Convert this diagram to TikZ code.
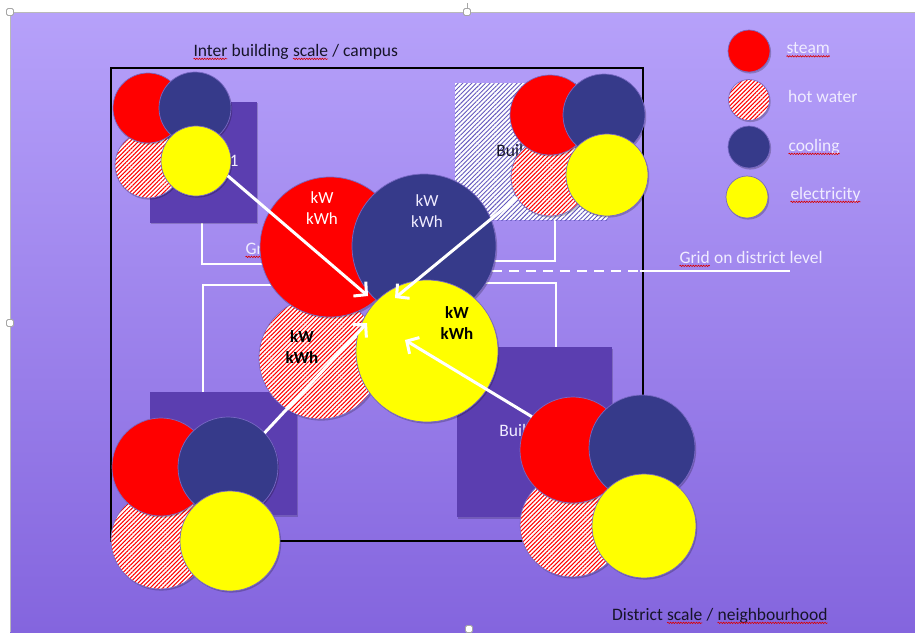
\documentclass[tikz,border=0pt]{standalone}
\usepackage{fontspec}
\setmainfont{Carlito}
\usetikzlibrary{arrows.meta,patterns.meta,shadows,decorations.pathmorphing}
\definecolor{bgtop}{RGB}{182,161,250}
\definecolor{bgbot}{RGB}{132,101,222}
\definecolor{steamred}{RGB}{255,0,0}
\definecolor{coolnavy}{RGB}{54,58,138}
\definecolor{elyellow}{RGB}{255,255,0}
\definecolor{bldgpurple}{RGB}{91,62,176}
\definecolor{hatchblue}{RGB}{100,88,190}
\definecolor{rimcol}{RGB}{120,104,196}
\definecolor{darktext}{RGB}{22,20,40}
\definecolor{lighttext}{RGB}{240,236,255}
\newcommand\spell[1]{\tikz[baseline=(sp.base)]{\node[inner sep=0pt,outer sep=0pt](sp){#1};\draw[spellline] ([yshift=-2.6pt]sp.base west) -- ([yshift=-2.6pt]sp.base east);}}
\begin{document}
\begin{tikzpicture}[x=1pt,y=-1pt,
  spellline/.style={draw=red!85!black,line width=0.6pt,decorate,decoration={snake,amplitude=0.7pt,segment length=2.6pt}},
  txt/.style={font=\fontsize{17.5}{21}\selectfont,inner sep=0pt,anchor=west},
  kw/.style={font=\fontsize{17}{21.5}\selectfont,inner sep=0pt,align=center},
  disc/.style={circle,inner sep=0pt,outer sep=0pt,minimum size=#1,draw=rimcol,line width=0.7pt,
     drop shadow={shadow xshift=1.2pt,shadow yshift=-1.6pt,opacity=0.22,fill=black}},
  steam/.style={disc=#1,fill=steamred},
  cool/.style={disc=#1,fill=coolnavy},
  elec/.style={disc=#1,fill=elyellow},
  hwater/.style={disc=#1,preaction={fill=white},pattern={Lines[angle=45,distance=3pt,line width=1.05pt]},pattern color=steamred},
  bldg/.style={rectangle,inner sep=0pt,fill=bldgpurple,font=\fontsize{17.5}{21}\selectfont,text=lighttext,
     drop shadow={shadow xshift=1.2pt,shadow yshift=-1.6pt,opacity=0.18,fill=black}},
  grid/.style={draw=white,line width=2.4pt},
  flow/.style={draw=white,line width=3pt,-{Straight Barb[length=9pt,width=19pt]}},
  handle/.style={draw=gray!70,fill=white,line width=0.8pt,rounded corners=1.5pt}
]
\useasboundingbox (0,0) rectangle (915,632);
\fill[white] (0,0) rectangle (915,632);
\shade[top color=bgtop,bottom color=bgbot] (10,12) rectangle (915,632);
\draw[gray!55,line width=1pt] (915,12) -- (10,12) -- (10,632);
\draw[gray!70,line width=0.8pt] (467,3) -- (467,9);
\node[handle,minimum size=7pt,inner sep=0pt] (h1) at (10,12) {};
\node[handle,minimum size=7pt,inner sep=0pt] (h2) at (467,12) {};
\node[handle,minimum size=7pt,inner sep=0pt] (h3) at (10,323) {};
\node[handle,minimum size=7pt,inner sep=0pt] (h4) at (469,629) {};

% campus frame
\draw[black,line width=1.2pt] (111,68) rectangle (643,541);
\node[txt,text=darktext] (title) at (193,52) {\spell{Inter} building \spell{scale} / campus};
\node[txt,text=darktext] (district) at (612,616) {District \spell{scale} / \spell{neighbourhood}};

% grid lines
\coordinate (g1a) at (202,222); \coordinate (g1b) at (202,264); \coordinate (g1c) at (280,264);
\draw[grid] (g1a) -- (g1b) -- (g1c);
\coordinate (g2a) at (555,220); \coordinate (g2b) at (555,261); \coordinate (g2c) at (470,261);
\draw[grid] (g2a) -- (g2b) -- (g2c);
\coordinate (g3a) at (492,271); \coordinate (g3b) at (640,271); \coordinate (g3c) at (790,271);
\draw[grid,dash pattern=on 10pt off 7pt] (g3a) -- (g3b);
\draw[grid] (g3b) -- (g3c);
\coordinate (g4a) at (470,283); \coordinate (g4b) at (556,283); \coordinate (g4c) at (556,347);
\draw[grid] (g4a) -- (g4b) -- (g4c);
\coordinate (g5a) at (280,285); \coordinate (g5b) at (203,285); \coordinate (g5c) at (203,392);
\draw[grid] (g5a) -- (g5b) -- (g5c);
\node[txt,text=lighttext] (gridc) at (245,250) {\spell{Grid}};
\node[txt,text=lighttext] (gridd) at (679,259) {\spell{Grid} on district level};

% buildings
\node[bldg,minimum width=107pt,minimum height=121pt] (b1) at (203.5,162) {Building 1};
\node[rectangle,inner sep=0pt,minimum width=153pt,minimum height=137pt,preaction={fill=white},
   pattern={Lines[angle=45,distance=3.2pt,line width=0.9pt]},pattern color=hatchblue,
   font=\fontsize{17.5}{21}\selectfont,text=darktext] (b2) at (531.5,151.5) {Building 2};
\node[bldg,minimum width=147pt,minimum height=123pt] (b3) at (223.5,453.5) {Building 3};
\node[bldg,minimum width=155pt,minimum height=170pt] (b4) at (534.5,432) {Building 4};

% central cluster
\node[hwater=122pt] (cH) at (320,358) {};
\node[steam=140pt] (cS) at (330,247) {};
\node[cool=144pt] (cC) at (424,246) {};
\node[elec=142pt] (cE) at (427,351) {};
\node[kw,text=white] (tS) at (322,208) {kW\\kWh};
\node[kw,text=lighttext] (tC) at (427,211) {kW\\kWh};
\node[kw,text=black,font=\bfseries\fontsize{17}{20.5}\selectfont] (tH) at (302,347) {kW\\kWh};
\node[kw,text=black,font=\bfseries\fontsize{17}{20.5}\selectfont] (tE) at (457,323) {kW\\kWh};

% top-left cluster
\node[hwater=66pt] (tlH) at (148,165) {};
\node[steam=70pt] (tlS) at (148,108) {};
\node[cool=72pt] (tlC) at (195,108) {};
\node[elec=70pt] (tlE) at (196,161) {};

% top-right cluster
\node[hwater=78pt] (trH) at (550,177) {};
\node[steam=80pt] (trS) at (550,115) {};
\node[cool=82pt] (trC) at (604,115) {};
\node[elec=82pt] (trE) at (607,175) {};

% bottom-left cluster
\node[hwater=98pt] (blH) at (160,540) {};
\node[steam=98pt] (blS) at (161,467) {};
\node[cool=100pt] (blC) at (228,467) {};
\node[elec=100pt] (blE) at (230,541) {};

% bottom-right cluster
\node[hwater=104pt] (brH) at (572,525) {};
\node[steam=106pt] (brS) at (573,450) {};
\node[cool=106pt] (brC) at (642,448) {};
\node[elec=104pt] (brE) at (644,526) {};

% flows to the centre
\coordinate (e1) at (368,296);
\coordinate (e2) at (395,298);
\coordinate (e3) at (367,323);
\coordinate (e4) at (405,340);
\draw[flow] (tlE.-25) -- (e1);
\draw[flow] (trH.212) -- (e2);
\draw[flow] (blC.43) -- (e3);
\draw[flow] (brS.141) -- (e4);

% legend
\node[steam=42pt] (lS) at (749,51) {};
\node[hwater=41pt] (lH) at (749,100) {};
\node[cool=42pt] (lC) at (749,147) {};
\node[elec=42pt] (lE) at (747,197) {};
\node[txt,text=lighttext] (lSt) at (786,50) {\spell{steam}};
\node[txt,text=lighttext] (lHt) at (788,96) {hot water};
\node[txt,text=lighttext] (lCt) at (788,147) {\spell{cooling}};
\node[txt,text=lighttext] (lEt) at (790,195) {\spell{electricity}};
\end{tikzpicture}
\end{document}
